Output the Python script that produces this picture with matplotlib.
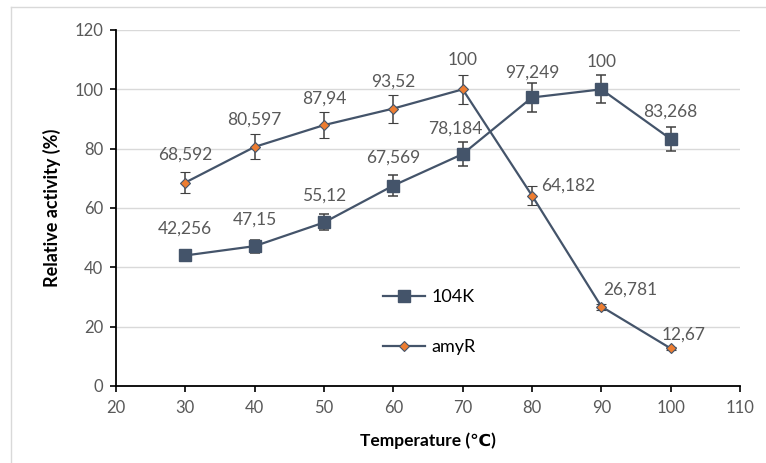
import matplotlib
matplotlib.use("Agg")
import matplotlib.pyplot as plt
from matplotlib.lines import Line2D

plt.rcParams['font.family'] = ['Lato', 'DejaVu Sans']

temps = [30, 40, 50, 60, 70, 80, 90, 100]
k104 = [44.0, 47.15, 55.12, 67.569, 78.184, 97.249, 100, 83.268]
k104_err = [2.0, 2.2, 2.7, 3.4, 4.1, 4.8, 4.7, 4.2]
k104_labels = ["42,256", "47,15", "55,12", "67,569", "78,184", "97,249", "100", "83,268"]
amyr = [68.592, 80.597, 87.94, 93.52, 100, 64.182, 26.781, 12.67]
amyr_err = [3.5, 4.2, 4.4, 4.7, 4.8, 3.2, 1.0, 0.5]
amyr_labels = ["68,592", "80,597", "87,94", "93,52", "100", "64,182", "26,781", "12,67"]

LINE = "#44546A"
ORANGE = "#ED7D31"
GRAY = "#595959"

fig = plt.figure(figsize=(7.66, 4.63), dpi=100)
ax = fig.add_axes([116/766, 1-386/463, (740-116)/766, (386-30)/463])

ax.errorbar(temps, k104, yerr=k104_err, color=LINE, lw=1.6, marker='s', ms=8.5,
            mfc=LINE, mec=LINE, ecolor="#404040", elinewidth=1.1, capsize=3.6,
            capthick=1.1, zorder=3)
ax.errorbar(temps, amyr, yerr=amyr_err, color=LINE, lw=1.6, marker='D', ms=5.5,
            mfc=ORANGE, mec=LINE, mew=0.8, ecolor="#404040", elinewidth=1.1,
            capsize=3.6, capthick=1.1, zorder=3)

# label offsets in points (dx, dy)
k_off = [(0, 19.5), (0, 19), (0, 19), (0, 20), (-5, 18), (0, 18), (0, 20), (0, 19.5)]
a_off = [(0, 20), (0, 19.5), (0, 19), (0, 19.5), (0, 21), (26, 7), (21, 12), (9, 10)]
for x, y, s, o in zip(temps, k104, k104_labels, k_off):
    ax.annotate(s, (x, y), xytext=o, textcoords='offset points', ha='center',
                va='center', fontsize=12.5, color=GRAY, zorder=4)
for x, y, s, o in zip(temps, amyr, amyr_labels, a_off):
    ax.annotate(s, (x, y), xytext=o, textcoords='offset points', ha='center',
                va='center', fontsize=12.5, color=GRAY, zorder=4)

ax.set_xlim(20, 110)
ax.set_ylim(0, 120)
ax.set_xticks(range(20, 111, 10))
ax.set_yticks(range(0, 121, 20))
ax.yaxis.grid(True, color="#D9D9D9", lw=1)
ax.set_axisbelow(True)
for sp in ['top', 'right']:
    ax.spines[sp].set_visible(False)
for sp in ['left', 'bottom']:
    ax.spines[sp].set_color('black')
    ax.spines[sp].set_linewidth(1.3)
ax.tick_params(axis='both', direction='out', length=4, width=1.2, color='black',
               labelcolor=GRAY, labelsize=12)
ax.tick_params(axis='x', pad=6)
ax.tick_params(axis='y', pad=5)

ax.set_xlabel("Temperature (℃)", fontsize=12.5, fontweight='bold', labelpad=12)
ax.set_ylabel("Relative activity (%)", fontsize=13, fontweight='bold', labelpad=10)

handles = [
    Line2D([], [], color=LINE, lw=1.6, marker='s', ms=8.5, mfc=LINE, mec=LINE),
    Line2D([], [], color=LINE, lw=1.6, marker='D', ms=5.5, mfc=ORANGE, mec=LINE, mew=0.8),
]
ax.legend(handles, ["104K", "amyR"], loc='upper left',
          bbox_to_anchor=(383/766, 1-289/463),
          bbox_transform=fig.transFigure, frameon=False, fontsize=13,
          borderpad=0, labelspacing=1.9, handlelength=2.3, handletextpad=0.4,
          borderaxespad=0)

# chart border
fig.add_artist(Line2D([10.5/766, 10.5/766], [0, 1-6.5/463], transform=fig.transFigure,
                      color="#D9D9D9", lw=1))
fig.add_artist(Line2D([10.5/766, 1], [1-6.5/463, 1-6.5/463], transform=fig.transFigure,
                      color="#D9D9D9", lw=1))

fig.savefig("out.png", dpi=100)
